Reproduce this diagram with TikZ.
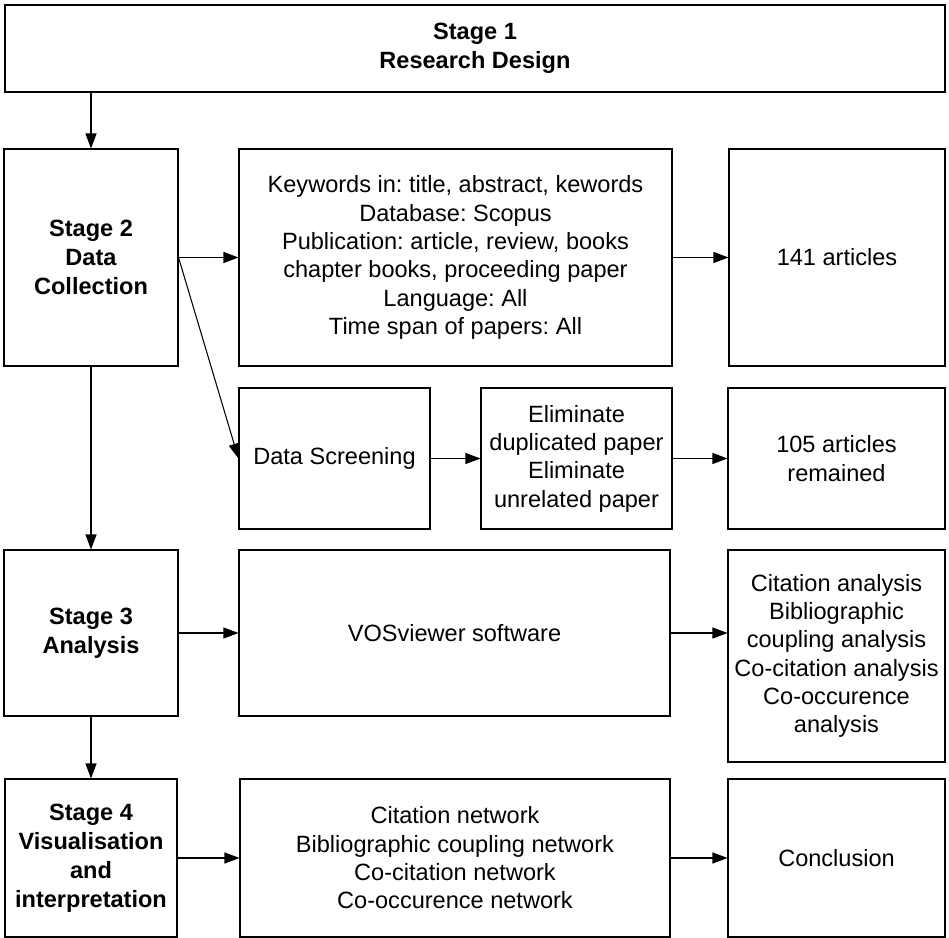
\documentclass[tikz,border=0pt]{standalone}
\usepackage{fontspec}
\setmainfont{Liberation Sans}
\usetikzlibrary{arrows.meta}
\frenchspacing

\begin{document}
\begin{tikzpicture}[
        box/.style={draw, line width=0.6pt, align=center, inner sep=0pt,
            font=\fontsize{13.4}{16.1}\selectfont},
        stage/.style={box, font=\fontsize{13.4}{16.6}\selectfont\bfseries},
        arr/.style={-{Triangle[length=0.3cm, width=0.22cm]}, line width=0.6pt}
    ]
        \useasboundingbox (0, 0) rectangle (18.98, -18.76);
        \node[stage, minimum width=18.8cm, minimum height=1.74cm] at (9.5, -0.97) (s1) {Stage 1\\Research Design};
        \node[stage, minimum width=3.48cm, minimum height=4.34cm] at (1.82, -5.15) (s2) {Stage 2\\Data\\Collection};
        \node[box, minimum width=8.66cm, minimum height=4.34cm] at (9.11, -5.15) (kw) {Keywords in: title, abstract, kewords\\Database: Scopus\\Publication: article, review, books\\chapter books, proceeding paper\\Language: All\\Time span of papers: All};
        \node[box, minimum width=4.32cm, minimum height=4.34cm] at (16.74, -5.15) (found) {141 articles};
        \node[box, minimum width=3.82cm, minimum height=2.82cm] at (6.69, -9.17) (screen) {Data Screening};
        \node[box, minimum width=3.82cm, minimum height=2.82cm] at (11.53, -9.17) (elim) {Eliminate\\duplicated paper\\Eliminate\\unrelated paper};
        \node[box, minimum width=4.34cm, minimum height=2.82cm] at (16.73, -9.17) (remain) {105 articles\\remained};
        \node[stage, minimum width=3.48cm, minimum height=3.32cm] at (1.82, -12.66) (s3) {Stage 3\\Analysis};
        \node[box, minimum width=8.62cm, minimum height=3.32cm] at (9.09, -12.66) (vos) {VOSviewer software};
        \node[box, minimum width=4.34cm, minimum height=4.24cm] at (16.73, -13.12) (methods) {Citation analysis\\Bibliographic\\coupling analysis\\Co-citation analysis\\Co-occurence\\analysis};
        \node[stage, minimum width=3.44cm, minimum height=3.16cm] at (1.82, -17.16) (s4) {Stage 4\\Visualisation\\and\\interpretation};
        \node[box, minimum width=8.6cm, minimum height=3.16cm] at (9.10, -17.16) (nets) {Citation network\\Bibliographic coupling network\\Co-citation network\\Co-occurence network};
        \node[box, minimum width=4.34cm, minimum height=3.16cm] at (16.73, -17.16) (concl) {Conclusion};
        \draw[arr] (s2.north |- s1.south) -- (s2.north);
        \draw[arr] (s2) -- (kw);
        \draw[arr] (kw) -- (found);
        \draw[arr] (s2.east) -- (screen.west);
        \draw[arr] (screen) -- (elim);
        \draw[arr] (elim) -- (remain);
        \draw[arr] (s2) -- (s3);
        \draw[arr] (s3) -- (vos);
        \draw[arr] (vos.east) -- (vos.east -| methods.west);
        \draw[arr] (s3) -- (s4);
        \draw[arr] (s4) -- (nets);
        \draw[arr] (nets) -- (concl);
    \end{tikzpicture}
\end{document}
